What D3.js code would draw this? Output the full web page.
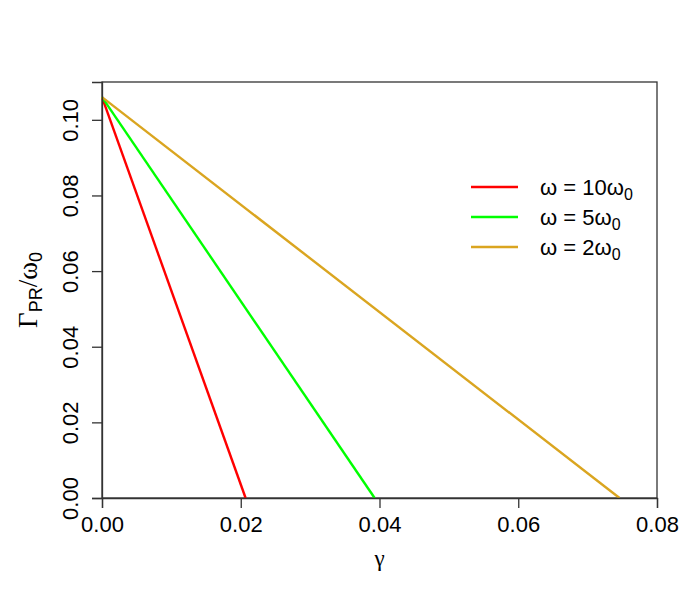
<!DOCTYPE html>
<html><head><meta charset="utf-8">
<script src="https://cdn.jsdelivr.net/npm/d3@7"></script>
<style>body{margin:0;background:#fff}</style>
</head><body>
<svg id="c" width="700" height="600"></svg>
<script>
const seriesNames = ["10", "5", "2"];
const seriesColors = ["#FF0000", "#00FF00", "#DAA520"];
const gammaValues = [[0.0, 0.0207], [0.0, 0.0393], [0.0, 0.0746]];
const rateValues = [[0.106, 0.0], [0.106, 0.0], [0.106, 0.0]];
const xTicks = [0, 0.02, 0.04, 0.06, 0.08];
const yTicks = [0, 0.02, 0.04, 0.06, 0.08, 0.10];

const svg = d3.select("#c");
const L = 102, R = 657, T = 82, B = 498;
const x = d3.scaleLinear().domain([0, 0.08]).range([L, R]);
const y = d3.scaleLinear().domain([0, 0.11]).range([B, T]);
const axCol = "#333";
const sans = "Liberation Sans, Arial, sans-serif";
const serif = "Liberation Serif, Times New Roman, serif";

// box
svg.append("rect").attr("x", L).attr("y", T).attr("width", R - L).attr("height", B - T)
  .attr("fill", "none").attr("stroke", axCol).attr("stroke-width", 1.3);

// lines
const line = d3.line().x(d => x(d[0])).y(d => y(d[1]));
seriesNames.forEach((n, i) => {
  const pts = gammaValues[i].map((g, j) => [g, rateValues[i][j]]);
  svg.append("path").attr("d", line(pts)).attr("fill", "none")
    .attr("stroke", seriesColors[i]).attr("stroke-width", 2.4);
});

// x axis
const xa = svg.append("g").attr("transform", `translate(0,${B})`)
  .call(d3.axisBottom(x).tickValues(xTicks).tickFormat(d3.format(".2f")).tickSize(10).tickPadding(8));
xa.select(".domain").attr("stroke", axCol).attr("stroke-width", 1.3);
xa.selectAll(".tick line").attr("stroke", axCol).attr("stroke-width", 1.3);
xa.selectAll("text").attr("font-family", sans).attr("font-size", 22).attr("fill", "#000");

// y axis
const ya = svg.append("g").attr("transform", `translate(${L},0)`)
  .call(d3.axisLeft(y).tickValues(yTicks).tickFormat(d3.format(".2f")).tickSize(10));
ya.select(".domain").attr("stroke", axCol).attr("stroke-width", 1.3);
ya.selectAll(".tick line").attr("stroke", axCol).attr("stroke-width", 1.3);
ya.selectAll("text").attr("font-family", sans).attr("font-size", 22)
  .attr("fill", "#000").attr("x", null).attr("dy", null)
  .attr("text-anchor", "middle").attr("transform", "translate(-24,0) rotate(-90)").attr("y", 0);

// axis titles
svg.append("text").attr("x", (L + R) / 2).attr("y", 566).attr("text-anchor", "middle")
  .attr("font-family", serif).attr("font-size", 23).text("γ");
const yt = svg.append("text").attr("transform", `translate(37,${(T + B) / 2}) rotate(-90)`)
  .attr("text-anchor", "middle").attr("font-family", serif).attr("font-size", 27);
yt.append("tspan").text("Γ");
yt.append("tspan").attr("font-family", sans).attr("font-size", 18).attr("dy", 5).text("PR");
yt.append("tspan").attr("dy", -5).text("/ω");
yt.append("tspan").attr("font-family", sans).attr("font-size", 18).attr("dy", 5).text("0");

// legend
seriesNames.forEach((n, i) => {
  const ly = 187 + i * 30;
  svg.append("line").attr("x1", 471).attr("x2", 518).attr("y1", ly).attr("y2", ly)
    .attr("stroke", seriesColors[i]).attr("stroke-width", 2.4);
  const t = svg.append("text").attr("x", 540).attr("y", ly + 8)
    .attr("font-family", sans).attr("font-size", 22);
  t.append("tspan").text(`ω = ${n}ω`);
  t.append("tspan").attr("font-size", 16).attr("dy", 5).text("0");
});
</script>
</body></html>
